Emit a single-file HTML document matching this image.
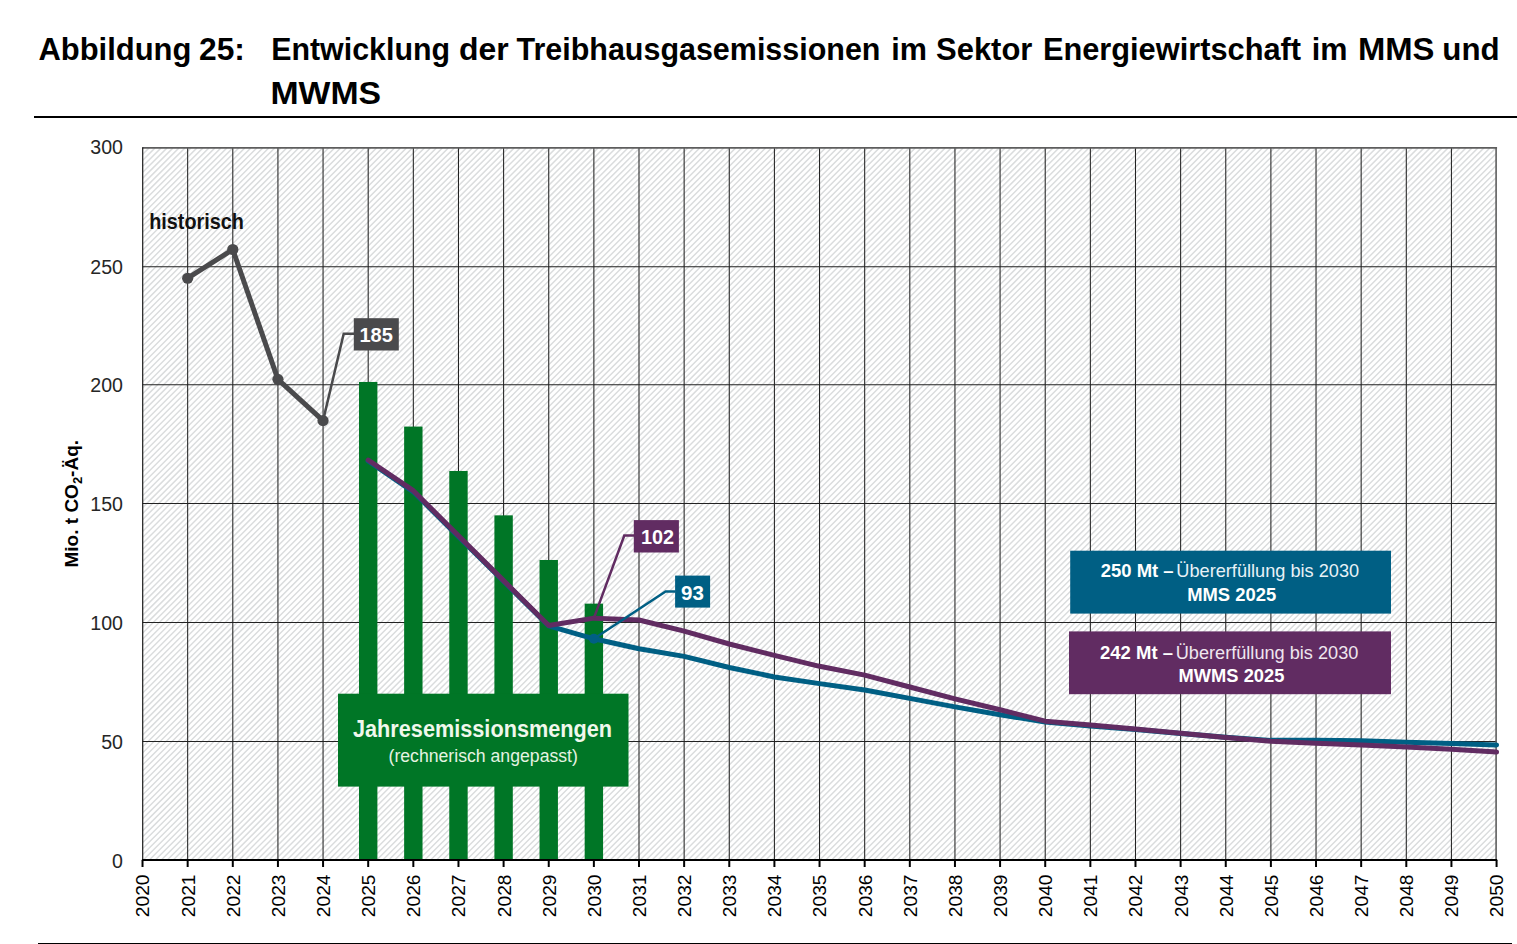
<!DOCTYPE html><html><head><meta charset="utf-8"><style>html,body{margin:0;padding:0;background:#fff;width:1517px;height:944px;overflow:hidden}svg{display:block}text{font-family:"Liberation Sans",sans-serif}</style></head><body>
<svg width="1517" height="944" viewBox="0 0 1517 944">
<text transform="translate(38.40,60) scale(0.9673,1)" font-size="32" font-weight="bold" fill="#000">Abbildung</text>
<text transform="translate(199.00,60) scale(0.9926,1)" font-size="32" font-weight="bold" fill="#000">25:</text>
<text transform="translate(271.20,60) scale(0.9493,1)" font-size="32" font-weight="bold" fill="#000">Entwicklung</text>
<text transform="translate(459.00,60) scale(0.9982,1)" font-size="32" font-weight="bold" fill="#000">der</text>
<text transform="translate(516.50,60) scale(0.9522,1)" font-size="32" font-weight="bold" fill="#000">Treibhausgasemissionen</text>
<text transform="translate(891.20,60) scale(0.9560,1)" font-size="32" font-weight="bold" fill="#000">im</text>
<text transform="translate(936.00,60) scale(0.9680,1)" font-size="32" font-weight="bold" fill="#000">Sektor</text>
<text transform="translate(1042.90,60) scale(0.9620,1)" font-size="32" font-weight="bold" fill="#000">Energiewirtschaft</text>
<text transform="translate(1311.70,60) scale(0.9560,1)" font-size="32" font-weight="bold" fill="#000">im</text>
<text transform="translate(1357.90,60) scale(1.0260,1)" font-size="32" font-weight="bold" fill="#000">MMS</text>
<text transform="translate(1442.30,60) scale(0.9769,1)" font-size="32" font-weight="bold" fill="#000">und</text>
<text transform="translate(270.40,104) scale(1.0557,1)" font-size="32" font-weight="bold" fill="#000">MWMS</text>
<rect x="34" y="116" width="1483" height="2" fill="#000"/>
<rect x="38" y="943" width="1474" height="1" fill="#000"/>
<clipPath id="pc"><rect x="142.52" y="147.9" width="1354.05" height="712.1"/></clipPath>
<path d="M-569.03 860L143.07 147.9M-563.05 860L149.05 147.9M-557.06 860L155.04 147.9M-551.07 860L161.03 147.9M-545.09 860L167.01 147.9M-539.10 860L173.00 147.9M-533.12 860L178.98 147.9M-527.13 860L184.97 147.9M-521.14 860L190.96 147.9M-515.16 860L196.94 147.9M-509.17 860L202.93 147.9M-503.19 860L208.91 147.9M-497.20 860L214.90 147.9M-491.21 860L220.89 147.9M-485.23 860L226.87 147.9M-479.24 860L232.86 147.9M-473.26 860L238.84 147.9M-467.27 860L244.83 147.9M-461.28 860L250.82 147.9M-455.30 860L256.80 147.9M-449.31 860L262.79 147.9M-443.33 860L268.77 147.9M-437.34 860L274.76 147.9M-431.35 860L280.75 147.9M-425.37 860L286.73 147.9M-419.38 860L292.72 147.9M-413.40 860L298.70 147.9M-407.41 860L304.69 147.9M-401.42 860L310.68 147.9M-395.44 860L316.66 147.9M-389.45 860L322.65 147.9M-383.47 860L328.63 147.9M-377.48 860L334.62 147.9M-371.49 860L340.61 147.9M-365.51 860L346.59 147.9M-359.52 860L352.58 147.9M-353.54 860L358.56 147.9M-347.55 860L364.55 147.9M-341.56 860L370.54 147.9M-335.58 860L376.52 147.9M-329.59 860L382.51 147.9M-323.61 860L388.49 147.9M-317.62 860L394.48 147.9M-311.63 860L400.47 147.9M-305.65 860L406.45 147.9M-299.66 860L412.44 147.9M-293.68 860L418.42 147.9M-287.69 860L424.41 147.9M-281.70 860L430.40 147.9M-275.72 860L436.38 147.9M-269.73 860L442.37 147.9M-263.75 860L448.35 147.9M-257.76 860L454.34 147.9M-251.77 860L460.33 147.9M-245.79 860L466.31 147.9M-239.80 860L472.30 147.9M-233.82 860L478.28 147.9M-227.83 860L484.27 147.9M-221.84 860L490.26 147.9M-215.86 860L496.24 147.9M-209.87 860L502.23 147.9M-203.89 860L508.21 147.9M-197.90 860L514.20 147.9M-191.91 860L520.19 147.9M-185.93 860L526.17 147.9M-179.94 860L532.16 147.9M-173.96 860L538.14 147.9M-167.97 860L544.13 147.9M-161.98 860L550.12 147.9M-156.00 860L556.10 147.9M-150.01 860L562.09 147.9M-144.03 860L568.07 147.9M-138.04 860L574.06 147.9M-132.05 860L580.05 147.9M-126.07 860L586.03 147.9M-120.08 860L592.02 147.9M-114.10 860L598.00 147.9M-108.11 860L603.99 147.9M-102.12 860L609.98 147.9M-96.14 860L615.96 147.9M-90.15 860L621.95 147.9M-84.17 860L627.93 147.9M-78.18 860L633.92 147.9M-72.19 860L639.91 147.9M-66.21 860L645.89 147.9M-60.22 860L651.88 147.9M-54.24 860L657.86 147.9M-48.25 860L663.85 147.9M-42.26 860L669.84 147.9M-36.28 860L675.82 147.9M-30.29 860L681.81 147.9M-24.31 860L687.79 147.9M-18.32 860L693.78 147.9M-12.33 860L699.77 147.9M-6.35 860L705.75 147.9M-0.36 860L711.74 147.9M5.62 860L717.72 147.9M11.61 860L723.71 147.9M17.60 860L729.70 147.9M23.58 860L735.68 147.9M29.57 860L741.67 147.9M35.55 860L747.65 147.9M41.54 860L753.64 147.9M47.53 860L759.63 147.9M53.51 860L765.61 147.9M59.50 860L771.60 147.9M65.48 860L777.58 147.9M71.47 860L783.57 147.9M77.46 860L789.56 147.9M83.44 860L795.54 147.9M89.43 860L801.53 147.9M95.41 860L807.51 147.9M101.40 860L813.50 147.9M107.39 860L819.49 147.9M113.37 860L825.47 147.9M119.36 860L831.46 147.9M125.34 860L837.44 147.9M131.33 860L843.43 147.9M137.32 860L849.42 147.9M143.30 860L855.40 147.9M149.29 860L861.39 147.9M155.27 860L867.37 147.9M161.26 860L873.36 147.9M167.25 860L879.35 147.9M173.23 860L885.33 147.9M179.22 860L891.32 147.9M185.20 860L897.30 147.9M191.19 860L903.29 147.9M197.18 860L909.28 147.9M203.16 860L915.26 147.9M209.15 860L921.25 147.9M215.13 860L927.23 147.9M221.12 860L933.22 147.9M227.11 860L939.21 147.9M233.09 860L945.19 147.9M239.08 860L951.18 147.9M245.06 860L957.16 147.9M251.05 860L963.15 147.9M257.04 860L969.14 147.9M263.02 860L975.12 147.9M269.01 860L981.11 147.9M274.99 860L987.09 147.9M280.98 860L993.08 147.9M286.97 860L999.07 147.9M292.95 860L1005.05 147.9M298.94 860L1011.04 147.9M304.92 860L1017.02 147.9M310.91 860L1023.01 147.9M316.90 860L1029.00 147.9M322.88 860L1034.98 147.9M328.87 860L1040.97 147.9M334.85 860L1046.95 147.9M340.84 860L1052.94 147.9M346.83 860L1058.93 147.9M352.81 860L1064.91 147.9M358.80 860L1070.90 147.9M364.78 860L1076.88 147.9M370.77 860L1082.87 147.9M376.76 860L1088.86 147.9M382.74 860L1094.84 147.9M388.73 860L1100.83 147.9M394.71 860L1106.81 147.9M400.70 860L1112.80 147.9M406.69 860L1118.79 147.9M412.67 860L1124.77 147.9M418.66 860L1130.76 147.9M424.64 860L1136.74 147.9M430.63 860L1142.73 147.9M436.62 860L1148.72 147.9M442.60 860L1154.70 147.9M448.59 860L1160.69 147.9M454.57 860L1166.67 147.9M460.56 860L1172.66 147.9M466.55 860L1178.65 147.9M472.53 860L1184.63 147.9M478.52 860L1190.62 147.9M484.50 860L1196.60 147.9M490.49 860L1202.59 147.9M496.48 860L1208.58 147.9M502.46 860L1214.56 147.9M508.45 860L1220.55 147.9M514.43 860L1226.53 147.9M520.42 860L1232.52 147.9M526.41 860L1238.51 147.9M532.39 860L1244.49 147.9M538.38 860L1250.48 147.9M544.36 860L1256.46 147.9M550.35 860L1262.45 147.9M556.34 860L1268.44 147.9M562.32 860L1274.42 147.9M568.31 860L1280.41 147.9M574.29 860L1286.39 147.9M580.28 860L1292.38 147.9M586.27 860L1298.37 147.9M592.25 860L1304.35 147.9M598.24 860L1310.34 147.9M604.22 860L1316.32 147.9M610.21 860L1322.31 147.9M616.20 860L1328.30 147.9M622.18 860L1334.28 147.9M628.17 860L1340.27 147.9M634.15 860L1346.25 147.9M640.14 860L1352.24 147.9M646.13 860L1358.23 147.9M652.11 860L1364.21 147.9M658.10 860L1370.20 147.9M664.08 860L1376.18 147.9M670.07 860L1382.17 147.9M676.06 860L1388.16 147.9M682.04 860L1394.14 147.9M688.03 860L1400.13 147.9M694.01 860L1406.11 147.9M700.00 860L1412.10 147.9M705.99 860L1418.09 147.9M711.97 860L1424.07 147.9M717.96 860L1430.06 147.9M723.94 860L1436.04 147.9M729.93 860L1442.03 147.9M735.92 860L1448.02 147.9M741.90 860L1454.00 147.9M747.89 860L1459.99 147.9M753.87 860L1465.97 147.9M759.86 860L1471.96 147.9M765.85 860L1477.95 147.9M771.83 860L1483.93 147.9M777.82 860L1489.92 147.9M783.80 860L1495.90 147.9M789.79 860L1501.89 147.9M795.78 860L1507.88 147.9M801.76 860L1513.86 147.9M807.75 860L1519.85 147.9M813.73 860L1525.83 147.9M819.72 860L1531.82 147.9M825.71 860L1537.81 147.9M831.69 860L1543.79 147.9M837.68 860L1549.78 147.9M843.66 860L1555.76 147.9M849.65 860L1561.75 147.9M855.64 860L1567.74 147.9M861.62 860L1573.72 147.9M867.61 860L1579.71 147.9M873.59 860L1585.69 147.9M879.58 860L1591.68 147.9M885.57 860L1597.67 147.9M891.55 860L1603.65 147.9M897.54 860L1609.64 147.9M903.52 860L1615.62 147.9M909.51 860L1621.61 147.9M915.50 860L1627.60 147.9M921.48 860L1633.58 147.9M927.47 860L1639.57 147.9M933.45 860L1645.55 147.9M939.44 860L1651.54 147.9M945.43 860L1657.53 147.9M951.41 860L1663.51 147.9M957.40 860L1669.50 147.9M963.38 860L1675.48 147.9M969.37 860L1681.47 147.9M975.36 860L1687.46 147.9M981.34 860L1693.44 147.9M987.33 860L1699.43 147.9M993.31 860L1705.41 147.9M999.30 860L1711.40 147.9M1005.29 860L1717.39 147.9M1011.27 860L1723.37 147.9M1017.26 860L1729.36 147.9M1023.24 860L1735.34 147.9M1029.23 860L1741.33 147.9M1035.22 860L1747.32 147.9M1041.20 860L1753.30 147.9M1047.19 860L1759.29 147.9M1053.17 860L1765.27 147.9M1059.16 860L1771.26 147.9M1065.15 860L1777.25 147.9M1071.13 860L1783.23 147.9M1077.12 860L1789.22 147.9M1083.10 860L1795.20 147.9M1089.09 860L1801.19 147.9M1095.08 860L1807.18 147.9M1101.06 860L1813.16 147.9M1107.05 860L1819.15 147.9M1113.03 860L1825.13 147.9M1119.02 860L1831.12 147.9M1125.01 860L1837.11 147.9M1130.99 860L1843.09 147.9M1136.98 860L1849.08 147.9M1142.96 860L1855.06 147.9M1148.95 860L1861.05 147.9M1154.94 860L1867.04 147.9M1160.92 860L1873.02 147.9M1166.91 860L1879.01 147.9M1172.89 860L1884.99 147.9M1178.88 860L1890.98 147.9M1184.87 860L1896.97 147.9M1190.85 860L1902.95 147.9M1196.84 860L1908.94 147.9M1202.82 860L1914.92 147.9M1208.81 860L1920.91 147.9M1214.80 860L1926.90 147.9M1220.78 860L1932.88 147.9M1226.77 860L1938.87 147.9M1232.75 860L1944.85 147.9M1238.74 860L1950.84 147.9M1244.73 860L1956.83 147.9M1250.71 860L1962.81 147.9M1256.70 860L1968.80 147.9M1262.68 860L1974.78 147.9M1268.67 860L1980.77 147.9M1274.66 860L1986.76 147.9M1280.64 860L1992.74 147.9M1286.63 860L1998.73 147.9M1292.61 860L2004.71 147.9M1298.60 860L2010.70 147.9M1304.59 860L2016.69 147.9M1310.57 860L2022.67 147.9M1316.56 860L2028.66 147.9M1322.54 860L2034.64 147.9M1328.53 860L2040.63 147.9M1334.52 860L2046.62 147.9M1340.50 860L2052.60 147.9M1346.49 860L2058.59 147.9M1352.47 860L2064.57 147.9M1358.46 860L2070.56 147.9M1364.45 860L2076.55 147.9M1370.43 860L2082.53 147.9M1376.42 860L2088.52 147.9M1382.40 860L2094.50 147.9M1388.39 860L2100.49 147.9M1394.38 860L2106.48 147.9M1400.36 860L2112.46 147.9M1406.35 860L2118.45 147.9M1412.33 860L2124.43 147.9M1418.32 860L2130.42 147.9M1424.31 860L2136.41 147.9M1430.29 860L2142.39 147.9M1436.28 860L2148.38 147.9M1442.26 860L2154.36 147.9M1448.25 860L2160.35 147.9M1454.24 860L2166.34 147.9M1460.22 860L2172.32 147.9M1466.21 860L2178.31 147.9M1472.19 860L2184.29 147.9M1478.18 860L2190.28 147.9M1484.17 860L2196.27 147.9M1490.15 860L2202.25 147.9M1496.14 860L2208.24 147.9" stroke="#dadcdd" stroke-width="1.45" clip-path="url(#pc)"/>
<line x1="187.66" y1="148" x2="187.66" y2="860.0" stroke="#222" stroke-width="1.05"/>
<line x1="232.79" y1="148" x2="232.79" y2="860.0" stroke="#222" stroke-width="1.05"/>
<line x1="277.93" y1="148" x2="277.93" y2="860.0" stroke="#222" stroke-width="1.05"/>
<line x1="323.06" y1="148" x2="323.06" y2="860.0" stroke="#222" stroke-width="1.05"/>
<line x1="368.19" y1="148" x2="368.19" y2="860.0" stroke="#222" stroke-width="1.05"/>
<line x1="413.33" y1="148" x2="413.33" y2="860.0" stroke="#222" stroke-width="1.05"/>
<line x1="458.47" y1="148" x2="458.47" y2="860.0" stroke="#222" stroke-width="1.05"/>
<line x1="503.6" y1="148" x2="503.6" y2="860.0" stroke="#222" stroke-width="1.05"/>
<line x1="548.74" y1="148" x2="548.74" y2="860.0" stroke="#222" stroke-width="1.05"/>
<line x1="593.87" y1="148" x2="593.87" y2="860.0" stroke="#222" stroke-width="1.05"/>
<line x1="639.0" y1="148" x2="639.0" y2="860.0" stroke="#222" stroke-width="1.05"/>
<line x1="684.14" y1="148" x2="684.14" y2="860.0" stroke="#222" stroke-width="1.05"/>
<line x1="729.27" y1="148" x2="729.27" y2="860.0" stroke="#222" stroke-width="1.05"/>
<line x1="774.41" y1="148" x2="774.41" y2="860.0" stroke="#222" stroke-width="1.05"/>
<line x1="819.54" y1="148" x2="819.54" y2="860.0" stroke="#222" stroke-width="1.05"/>
<line x1="864.68" y1="148" x2="864.68" y2="860.0" stroke="#222" stroke-width="1.05"/>
<line x1="909.81" y1="148" x2="909.81" y2="860.0" stroke="#222" stroke-width="1.05"/>
<line x1="954.95" y1="148" x2="954.95" y2="860.0" stroke="#222" stroke-width="1.05"/>
<line x1="1000.08" y1="148" x2="1000.08" y2="860.0" stroke="#222" stroke-width="1.05"/>
<line x1="1045.22" y1="148" x2="1045.22" y2="860.0" stroke="#222" stroke-width="1.05"/>
<line x1="1090.36" y1="148" x2="1090.36" y2="860.0" stroke="#222" stroke-width="1.05"/>
<line x1="1135.49" y1="148" x2="1135.49" y2="860.0" stroke="#222" stroke-width="1.05"/>
<line x1="1180.62" y1="148" x2="1180.62" y2="860.0" stroke="#222" stroke-width="1.05"/>
<line x1="1225.76" y1="148" x2="1225.76" y2="860.0" stroke="#222" stroke-width="1.05"/>
<line x1="1270.89" y1="148" x2="1270.89" y2="860.0" stroke="#222" stroke-width="1.05"/>
<line x1="1316.03" y1="148" x2="1316.03" y2="860.0" stroke="#222" stroke-width="1.05"/>
<line x1="1361.16" y1="148" x2="1361.16" y2="860.0" stroke="#222" stroke-width="1.05"/>
<line x1="1406.3" y1="148" x2="1406.3" y2="860.0" stroke="#222" stroke-width="1.05"/>
<line x1="1451.43" y1="148" x2="1451.43" y2="860.0" stroke="#222" stroke-width="1.05"/>
<line x1="142.52" y1="266.8" x2="1496.57" y2="266.8" stroke="#222" stroke-width="1.05"/>
<line x1="142.52" y1="384.7" x2="1496.57" y2="384.7" stroke="#222" stroke-width="1.05"/>
<line x1="142.52" y1="503.4" x2="1496.57" y2="503.4" stroke="#222" stroke-width="1.05"/>
<line x1="142.52" y1="622.5" x2="1496.57" y2="622.5" stroke="#222" stroke-width="1.05"/>
<line x1="142.52" y1="741.45" x2="1496.57" y2="741.45" stroke="#222" stroke-width="1.05"/>
<line x1="142.52" y1="147.9" x2="1497.07" y2="147.9" stroke="#5e5e5e" stroke-width="1.6"/>
<line x1="1496.1" y1="147.9" x2="1496.1" y2="860.0" stroke="#5e5e5e" stroke-width="1.6"/>
<line x1="142.7" y1="147.2" x2="142.7" y2="860.0" stroke="#1a1a1a" stroke-width="1.2"/>
<text x="123" y="867.6" font-size="19.6" fill="#262626" text-anchor="end">0</text>
<text x="123" y="748.6" font-size="19.6" fill="#262626" text-anchor="end">50</text>
<text x="123" y="629.9" font-size="19.6" fill="#262626" text-anchor="end">100</text>
<text x="123" y="510.8" font-size="19.6" fill="#262626" text-anchor="end">150</text>
<text x="123" y="392.2" font-size="19.6" fill="#262626" text-anchor="end">200</text>
<text x="123" y="273.6" font-size="19.6" fill="#262626" text-anchor="end">250</text>
<text x="123" y="153.8" font-size="19.6" fill="#262626" text-anchor="end">300</text>
<text transform="translate(77.8,567.5) rotate(-90)" font-size="19" font-weight="bold" fill="#000">Mio. t CO<tspan font-size="13" dy="4">2</tspan><tspan dy="-4">-Äq.</tspan></text>
<rect x="359.00" y="381.96" width="18.4" height="478.04" fill="#007626"/>
<rect x="404.13" y="426.58" width="18.4" height="433.42" fill="#007626"/>
<rect x="449.27" y="470.97" width="18.4" height="389.03" fill="#007626"/>
<rect x="494.40" y="515.35" width="18.4" height="344.65" fill="#007626"/>
<rect x="539.53" y="559.98" width="18.4" height="300.02" fill="#007626"/>
<rect x="584.67" y="603.65" width="18.4" height="256.35" fill="#007626"/>
<rect x="338" y="693.7" width="290.5" height="92.9" fill="#007626"/>
<text transform="translate(353.00,737) scale(0.8853,1)" font-size="24.5" font-weight="bold" fill="#f0f8ec">Jahresemissionsmengen</text>
<text transform="translate(388.50,761.6) scale(0.9548,1)" font-size="18.5" fill="#e6f3e2">(rechnerisch angepasst)</text>
<polyline points="368.19,461.00 413.33,491.85 458.47,536.72 503.60,581.34 548.74,625.96 593.87,638.78 639.00,648.75 684.14,656.35 729.27,667.50 774.41,677.00 819.54,683.64 864.68,690.05 909.81,698.36 954.95,706.90 1000.08,714.74 1045.22,722.09 1090.36,726.13 1135.49,729.45 1180.62,733.49 1225.76,737.28 1270.89,740.37 1316.03,740.13 1361.16,740.85 1406.30,742.27 1451.43,743.46 1496.57,744.88" fill="none" stroke="#005f84" stroke-width="5" stroke-linejoin="round" stroke-linecap="round"/>
<circle cx="593.87" cy="638.78" r="5" fill="#005f84"/>
<polyline points="368.19,460.05 413.33,490.67 458.47,535.77 503.60,580.63 548.74,625.49 593.87,618.13 639.00,620.03 684.14,631.18 729.27,644.00 774.41,655.40 819.54,666.31 864.68,675.10 909.81,686.96 954.95,698.83 1000.08,709.75 1045.22,721.14 1090.36,724.94 1135.49,728.98 1180.62,733.25 1225.76,737.52 1270.89,741.32 1316.03,743.22 1361.16,744.88 1406.30,747.02 1451.43,749.15 1496.57,752.00" fill="none" stroke="#612c62" stroke-width="5" stroke-linejoin="round" stroke-linecap="round"/>
<polyline points="187.66,278.23 232.79,249.51 277.93,379.35 323.06,420.65" fill="none" stroke="#4a4a4c" stroke-width="5" stroke-linejoin="round"/>
<circle cx="187.66" cy="278.23" r="5.6" fill="#4a4a4c"/>
<circle cx="232.79" cy="249.51" r="5.6" fill="#4a4a4c"/>
<circle cx="277.93" cy="379.35" r="5.6" fill="#4a4a4c"/>
<circle cx="323.06" cy="420.65" r="5.6" fill="#4a4a4c"/>
<text transform="translate(149.20,228.9) scale(0.8807,1)" font-size="22.5" font-weight="bold" fill="#111">historisch</text>
<polyline points="323.06,420.65 343.7,333.8 354,333.8" fill="none" stroke="#4a4a4c" stroke-width="2.5"/>
<rect x="353.8" y="318.2" width="45" height="32.3" fill="#4a4a4c"/>
<text transform="translate(359.40,342) scale(1.0216,1)" font-size="19.6" font-weight="bold" fill="#fff">185</text>
<polyline points="593.87,618.13 624.3,535.5 634,535.5" fill="none" stroke="#612c62" stroke-width="2.5"/>
<rect x="633.8" y="520.1" width="45.1" height="32.4" fill="#612c62"/>
<text transform="translate(640.90,544) scale(1.0125,1)" font-size="19.6" font-weight="bold" fill="#fff">102</text>
<polyline points="593.87,638.78 665.6,591.5 675.5,591.5" fill="none" stroke="#005f84" stroke-width="2.5"/>
<rect x="675.1" y="575.6" width="35" height="32" fill="#005f84"/>
<text transform="translate(681.10,599.5) scale(1.0461,1)" font-size="19.6" font-weight="bold" fill="#fff">93</text>
<rect x="1070.2" y="550.7" width="320.8" height="62.9" fill="#005f84"/>
<text transform="translate(1100.70,576.8) scale(1.0379,1)" font-size="17.8" font-weight="bold" fill="#fff">250 Mt –</text>
<text transform="translate(1176.30,576.8) scale(1.0218,1)" font-size="17.8" fill="#e8f2f7">Übererfüllung bis 2030</text>
<text transform="translate(1187.20,600.5) scale(1.0341,1)" font-size="17.8" font-weight="bold" fill="#fff">MMS 2025</text>
<rect x="1069" y="631.4" width="322" height="62.8" fill="#612c62"/>
<text transform="translate(1100.00,658.7) scale(1.0393,1)" font-size="17.8" font-weight="bold" fill="#fff">242 Mt –</text>
<text transform="translate(1175.70,658.7) scale(1.0206,1)" font-size="17.8" fill="#efe6ef">Übererfüllung bis 2030</text>
<text transform="translate(1178.60,681.9) scale(1.0285,1)" font-size="17.8" font-weight="bold" fill="#fff">MWMS 2025</text>
<line x1="141.92000000000002" y1="860.0" x2="1497.17" y2="860.0" stroke="#000" stroke-width="2"/>
<line x1="142.52" y1="860.0" x2="142.52" y2="867" stroke="#000" stroke-width="2"/>
<text transform="translate(149.42,874.5) rotate(-90)" font-size="19.2" fill="#000" text-anchor="end">2020</text>
<line x1="187.66" y1="860.0" x2="187.66" y2="867" stroke="#000" stroke-width="2"/>
<text transform="translate(194.56,874.5) rotate(-90)" font-size="19.2" fill="#000" text-anchor="end">2021</text>
<line x1="232.79" y1="860.0" x2="232.79" y2="867" stroke="#000" stroke-width="2"/>
<text transform="translate(239.69,874.5) rotate(-90)" font-size="19.2" fill="#000" text-anchor="end">2022</text>
<line x1="277.93" y1="860.0" x2="277.93" y2="867" stroke="#000" stroke-width="2"/>
<text transform="translate(284.82,874.5) rotate(-90)" font-size="19.2" fill="#000" text-anchor="end">2023</text>
<line x1="323.06" y1="860.0" x2="323.06" y2="867" stroke="#000" stroke-width="2"/>
<text transform="translate(329.96,874.5) rotate(-90)" font-size="19.2" fill="#000" text-anchor="end">2024</text>
<line x1="368.19" y1="860.0" x2="368.19" y2="867" stroke="#000" stroke-width="2"/>
<text transform="translate(375.09,874.5) rotate(-90)" font-size="19.2" fill="#000" text-anchor="end">2025</text>
<line x1="413.33" y1="860.0" x2="413.33" y2="867" stroke="#000" stroke-width="2"/>
<text transform="translate(420.23,874.5) rotate(-90)" font-size="19.2" fill="#000" text-anchor="end">2026</text>
<line x1="458.47" y1="860.0" x2="458.47" y2="867" stroke="#000" stroke-width="2"/>
<text transform="translate(465.37,874.5) rotate(-90)" font-size="19.2" fill="#000" text-anchor="end">2027</text>
<line x1="503.60" y1="860.0" x2="503.60" y2="867" stroke="#000" stroke-width="2"/>
<text transform="translate(510.50,874.5) rotate(-90)" font-size="19.2" fill="#000" text-anchor="end">2028</text>
<line x1="548.74" y1="860.0" x2="548.74" y2="867" stroke="#000" stroke-width="2"/>
<text transform="translate(555.63,874.5) rotate(-90)" font-size="19.2" fill="#000" text-anchor="end">2029</text>
<line x1="593.87" y1="860.0" x2="593.87" y2="867" stroke="#000" stroke-width="2"/>
<text transform="translate(600.77,874.5) rotate(-90)" font-size="19.2" fill="#000" text-anchor="end">2030</text>
<line x1="639.00" y1="860.0" x2="639.00" y2="867" stroke="#000" stroke-width="2"/>
<text transform="translate(645.90,874.5) rotate(-90)" font-size="19.2" fill="#000" text-anchor="end">2031</text>
<line x1="684.14" y1="860.0" x2="684.14" y2="867" stroke="#000" stroke-width="2"/>
<text transform="translate(691.04,874.5) rotate(-90)" font-size="19.2" fill="#000" text-anchor="end">2032</text>
<line x1="729.27" y1="860.0" x2="729.27" y2="867" stroke="#000" stroke-width="2"/>
<text transform="translate(736.17,874.5) rotate(-90)" font-size="19.2" fill="#000" text-anchor="end">2033</text>
<line x1="774.41" y1="860.0" x2="774.41" y2="867" stroke="#000" stroke-width="2"/>
<text transform="translate(781.31,874.5) rotate(-90)" font-size="19.2" fill="#000" text-anchor="end">2034</text>
<line x1="819.54" y1="860.0" x2="819.54" y2="867" stroke="#000" stroke-width="2"/>
<text transform="translate(826.44,874.5) rotate(-90)" font-size="19.2" fill="#000" text-anchor="end">2035</text>
<line x1="864.68" y1="860.0" x2="864.68" y2="867" stroke="#000" stroke-width="2"/>
<text transform="translate(871.58,874.5) rotate(-90)" font-size="19.2" fill="#000" text-anchor="end">2036</text>
<line x1="909.81" y1="860.0" x2="909.81" y2="867" stroke="#000" stroke-width="2"/>
<text transform="translate(916.71,874.5) rotate(-90)" font-size="19.2" fill="#000" text-anchor="end">2037</text>
<line x1="954.95" y1="860.0" x2="954.95" y2="867" stroke="#000" stroke-width="2"/>
<text transform="translate(961.85,874.5) rotate(-90)" font-size="19.2" fill="#000" text-anchor="end">2038</text>
<line x1="1000.08" y1="860.0" x2="1000.08" y2="867" stroke="#000" stroke-width="2"/>
<text transform="translate(1006.98,874.5) rotate(-90)" font-size="19.2" fill="#000" text-anchor="end">2039</text>
<line x1="1045.22" y1="860.0" x2="1045.22" y2="867" stroke="#000" stroke-width="2"/>
<text transform="translate(1052.12,874.5) rotate(-90)" font-size="19.2" fill="#000" text-anchor="end">2040</text>
<line x1="1090.36" y1="860.0" x2="1090.36" y2="867" stroke="#000" stroke-width="2"/>
<text transform="translate(1097.26,874.5) rotate(-90)" font-size="19.2" fill="#000" text-anchor="end">2041</text>
<line x1="1135.49" y1="860.0" x2="1135.49" y2="867" stroke="#000" stroke-width="2"/>
<text transform="translate(1142.39,874.5) rotate(-90)" font-size="19.2" fill="#000" text-anchor="end">2042</text>
<line x1="1180.62" y1="860.0" x2="1180.62" y2="867" stroke="#000" stroke-width="2"/>
<text transform="translate(1187.53,874.5) rotate(-90)" font-size="19.2" fill="#000" text-anchor="end">2043</text>
<line x1="1225.76" y1="860.0" x2="1225.76" y2="867" stroke="#000" stroke-width="2"/>
<text transform="translate(1232.66,874.5) rotate(-90)" font-size="19.2" fill="#000" text-anchor="end">2044</text>
<line x1="1270.89" y1="860.0" x2="1270.89" y2="867" stroke="#000" stroke-width="2"/>
<text transform="translate(1277.80,874.5) rotate(-90)" font-size="19.2" fill="#000" text-anchor="end">2045</text>
<line x1="1316.03" y1="860.0" x2="1316.03" y2="867" stroke="#000" stroke-width="2"/>
<text transform="translate(1322.93,874.5) rotate(-90)" font-size="19.2" fill="#000" text-anchor="end">2046</text>
<line x1="1361.16" y1="860.0" x2="1361.16" y2="867" stroke="#000" stroke-width="2"/>
<text transform="translate(1368.07,874.5) rotate(-90)" font-size="19.2" fill="#000" text-anchor="end">2047</text>
<line x1="1406.30" y1="860.0" x2="1406.30" y2="867" stroke="#000" stroke-width="2"/>
<text transform="translate(1413.20,874.5) rotate(-90)" font-size="19.2" fill="#000" text-anchor="end">2048</text>
<line x1="1451.43" y1="860.0" x2="1451.43" y2="867" stroke="#000" stroke-width="2"/>
<text transform="translate(1458.34,874.5) rotate(-90)" font-size="19.2" fill="#000" text-anchor="end">2049</text>
<line x1="1496.57" y1="860.0" x2="1496.57" y2="867" stroke="#000" stroke-width="2"/>
<text transform="translate(1503.47,874.5) rotate(-90)" font-size="19.2" fill="#000" text-anchor="end">2050</text>
</svg></body></html>
